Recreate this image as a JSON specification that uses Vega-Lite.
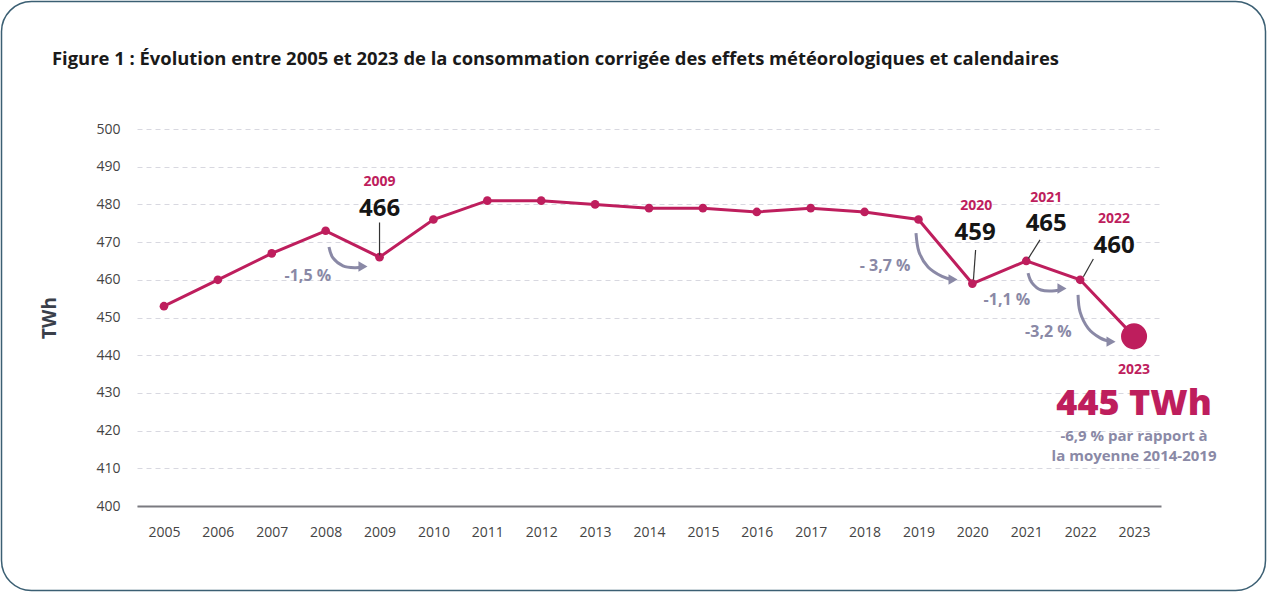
{
  "$schema": "https://vega.github.io/schema/vega-lite/v6.json",
  "width": 1024,
  "height": 377,
  "autosize": {"type": "none"},
  "padding": {"left": 137, "top": 129, "right": 106, "bottom": 86},
  "background": "white",
  "config": {
    "view": {"stroke": null},
    "font": "Open Sans",
    "axis": {"labelFont": "Open Sans", "titleFont": "Open Sans"}
  },
  "title": {
    "text": "Figure 1 : Évolution entre 2005 et 2023 de la consommation corrigée des effets météorologiques et calendaires",
    "anchor": "start",
    "frame": "group",
    "dx": -85,
    "offset": -77,
    "baseline": "middle",
    "fontSize": 18.4,
    "fontWeight": "bold",
    "font": "Open Sans",
    "color": "#1a1a1a"
  },
  "datasets": {
    "series": [
      {"year": 2005, "twh": 453}, {"year": 2006, "twh": 460}, {"year": 2007, "twh": 467},
      {"year": 2008, "twh": 473}, {"year": 2009, "twh": 466}, {"year": 2010, "twh": 476},
      {"year": 2011, "twh": 481}, {"year": 2012, "twh": 481}, {"year": 2013, "twh": 480},
      {"year": 2014, "twh": 479}, {"year": 2015, "twh": 479}, {"year": 2016, "twh": 478},
      {"year": 2017, "twh": 479}, {"year": 2018, "twh": 478}, {"year": 2019, "twh": 476},
      {"year": 2020, "twh": 459}, {"year": 2021, "twh": 465}, {"year": 2022, "twh": 460},
      {"year": 2023, "twh": 445}
    ],
    "labels": [
      {"x": 2009.0, "y": 485.9, "t": "2009", "k": "yr"},
      {"x": 2009.0, "y": 478.8, "t": "466", "k": "val"},
      {"x": 2020.07, "y": 479.6, "t": "2020", "k": "yr"},
      {"x": 2020.05, "y": 472.3, "t": "459", "k": "val"},
      {"x": 2021.37, "y": 481.6, "t": "2021", "k": "yr"},
      {"x": 2021.37, "y": 474.7, "t": "465", "k": "val"},
      {"x": 2022.63, "y": 476.0, "t": "2022", "k": "yr"},
      {"x": 2022.63, "y": 469.0, "t": "460", "k": "val"},
      {"x": 2007.67, "y": 461.0, "t": "-1,5 %", "k": "pct"},
      {"x": 2018.38, "y": 463.7, "t": "- 3,7 %", "k": "pct"},
      {"x": 2020.64, "y": 454.6, "t": "-1,1 %", "k": "pct"},
      {"x": 2021.41, "y": 446.2, "t": "-3,2 %", "k": "pct"},
      {"x": 2023.0, "y": 436.0, "t": "2023", "k": "yr"},
      {"x": 2023.0, "y": 424.1, "t": "445 TWh", "k": "big"},
      {"x": 2023.0, "y": 420.5, "t": "-6,9 % par rapport à\nla moyenne 2014-2019", "k": "note"}
    ],
    "leaders": [
      {"x": 2009.0, "y": 475.2, "x2": 2009.0, "y2": 466.5},
      {"x": 2020.06, "y": 467.9, "x2": 2020.02, "y2": 460.0},
      {"x": 2021.255, "y": 470.6, "x2": 2021.04, "y2": 465.7},
      {"x": 2022.245, "y": 465.5, "x2": 2022.06, "y2": 460.8}
    ],
    "arrows": [
      {"a": 1, "o": 1, "x": 2008.062, "y": 468.7},
      {"a": 1, "o": 2, "x": 2008.136, "y": 465.8},
      {"a": 1, "o": 3, "x": 2008.322, "y": 463.7},
      {"a": 1, "o": 4, "x": 2008.544, "y": 463.2},
      {"a": 1, "o": 5, "x": 2008.693, "y": 463.5},
      {"a": 2, "o": 1, "x": 2018.954, "y": 472.4},
      {"a": 2, "o": 2, "x": 2019.010, "y": 467.4},
      {"a": 2, "o": 3, "x": 2019.177, "y": 463.4},
      {"a": 2, "o": 4, "x": 2019.437, "y": 460.9},
      {"a": 2, "o": 5, "x": 2019.641, "y": 460.1},
      {"a": 3, "o": 1, "x": 2021.033, "y": 461.8},
      {"a": 3, "o": 2, "x": 2021.107, "y": 459.2},
      {"a": 3, "o": 3, "x": 2021.274, "y": 457.3},
      {"a": 3, "o": 4, "x": 2021.534, "y": 457.1},
      {"a": 3, "o": 5, "x": 2021.663, "y": 457.7},
      {"a": 4, "o": 1, "x": 2021.961, "y": 456.0},
      {"a": 4, "o": 2, "x": 2021.998, "y": 451.5},
      {"a": 4, "o": 3, "x": 2022.146, "y": 447.2},
      {"a": 4, "o": 4, "x": 2022.369, "y": 444.6},
      {"a": 4, "o": 5, "x": 2022.573, "y": 443.6}
    ]
  },
  "layer": [
    {
      "data": {"name": "series"},
      "mark": {"type": "line", "color": "#be1e5d", "strokeWidth": 3},
      "encoding": {
        "x": {
          "field": "year", "type": "quantitative",
          "scale": {"domain": [2004.5, 2023.5], "nice": false, "zero": false},
          "axis": {
            "values": [2005, 2006, 2007, 2008, 2009, 2010, 2011, 2012, 2013, 2014, 2015, 2016, 2017, 2018, 2019, 2020, 2021, 2022, 2023],
            "tickCount": 40,
            "format": "d", "title": null, "grid": false, "ticks": false,
            "domainColor": "#7a7a80", "domainWidth": 2, "labelOverlap": false,
            "labelFontSize": 14, "labelColor": "#444", "labelPadding": 19
          }
        },
        "y": {
          "field": "twh", "type": "quantitative",
          "scale": {"domain": [400, 500], "nice": false, "zero": false},
          "axis": {
            "values": [400, 410, 420, 430, 440, 450, 460, 470, 480, 490, 500],
            "tickCount": 20,
            "title": "TWh", "titleFontSize": 19, "titleFontWeight": "bold", "titleColor": "#3a3f4a", "titlePadding": 36,
            "domain": false, "ticks": false, "labelOverlap": false,
            "gridColor": "#d8d8e0", "gridDash": [5, 4], "gridWidth": 1,
            "labelFontSize": 14, "labelColor": "#444", "labelPadding": 17
          }
        }
      }
    },
    {
      "data": {"name": "series"},
      "transform": [{"filter": "datum.year < 2023"}],
      "mark": {"type": "point", "filled": true, "opacity": 1, "color": "#be1e5d", "size": 75},
      "encoding": {
        "x": {"field": "year", "type": "quantitative"},
        "y": {"field": "twh", "type": "quantitative"}
      }
    },
    {
      "data": {"name": "series"},
      "transform": [{"filter": "datum.year == 2023"}],
      "mark": {"type": "point", "filled": true, "opacity": 1, "color": "#be1e5d", "size": 680},
      "encoding": {
        "x": {"field": "year", "type": "quantitative"},
        "y": {"field": "twh", "type": "quantitative"}
      }
    },
    {
      "data": {"name": "leaders"},
      "mark": {"type": "rule", "color": "#333", "strokeWidth": 1.2},
      "encoding": {
        "x": {"field": "x", "type": "quantitative"},
        "y": {"field": "y", "type": "quantitative"},
        "x2": {"field": "x2"},
        "y2": {"field": "y2"}
      }
    },
    {
      "data": {"name": "arrows"},
      "mark": {"type": "line", "color": "#8a89a6", "strokeWidth": 3, "interpolate": "cardinal"},
      "encoding": {
        "x": {"field": "x", "type": "quantitative"},
        "y": {"field": "y", "type": "quantitative"},
        "detail": {"field": "a"},
        "order": {"field": "o"}
      }
    },
    {
      "data": {"name": "arrows"},
      "transform": [{"filter": "datum.o == 5"}],
      "mark": {"type": "point", "shape": "triangle-right", "filled": true, "opacity": 1, "color": "#8a89a6", "size": 110},
      "encoding": {
        "x": {"field": "x", "type": "quantitative"},
        "y": {"field": "y", "type": "quantitative"}
      }
    },
    {
      "data": {"name": "labels"},
      "transform": [{"filter": "datum.k == 'yr'"}],
      "mark": {"type": "text", "font": "Open Sans", "fontWeight": "bold", "fontSize": 14, "color": "#be1e5d", "baseline": "middle", "align": "center"},
      "encoding": {
        "x": {"field": "x", "type": "quantitative"},
        "y": {"field": "y", "type": "quantitative"},
        "text": {"field": "t"}
      }
    },
    {
      "data": {"name": "labels"},
      "transform": [{"filter": "datum.k == 'val'"}],
      "mark": {"type": "text", "font": "Open Sans", "fontWeight": "bold", "fontSize": 24, "color": "#151515", "baseline": "middle", "align": "center"},
      "encoding": {
        "x": {"field": "x", "type": "quantitative"},
        "y": {"field": "y", "type": "quantitative"},
        "text": {"field": "t"}
      }
    },
    {
      "data": {"name": "labels"},
      "transform": [{"filter": "datum.k == 'pct'"}],
      "mark": {"type": "text", "font": "Open Sans", "fontWeight": "bold", "fontSize": 16, "color": "#8a89a6", "baseline": "middle", "align": "center"},
      "encoding": {
        "x": {"field": "x", "type": "quantitative"},
        "y": {"field": "y", "type": "quantitative"},
        "text": {"field": "t"}
      }
    },
    {
      "data": {"name": "labels"},
      "transform": [{"filter": "datum.k == 'big'"}],
      "mark": {"type": "text", "font": "Open Sans", "fontWeight": "800", "fontSize": 36, "color": "#be1e5d", "baseline": "alphabetic", "align": "center"},
      "encoding": {
        "x": {"field": "x", "type": "quantitative"},
        "y": {"field": "y", "type": "quantitative"},
        "text": {"field": "t"}
      }
    },
    {
      "data": {"name": "labels"},
      "transform": [{"filter": "datum.k == 'note'"}],
      "mark": {"type": "text", "font": "Open Sans", "fontWeight": "bold", "fontSize": 15, "lineHeight": 20.5, "lineBreak": "\n", "color": "#8a89a6", "baseline": "top", "align": "center"},
      "encoding": {
        "x": {"field": "x", "type": "quantitative"},
        "y": {"field": "y", "type": "quantitative"},
        "text": {"field": "t"}
      }
    },
    {
      "data": {"values": [{}]},
      "mark": {"type": "rect", "fill": null, "stroke": "#3b5f73", "strokeWidth": 1.5, "cornerRadius": 30, "clip": false},
      "encoding": {
        "x": {"datum": 2001.986, "type": "quantitative"},
        "x2": {"datum": 2025.439},
        "y": {"datum": 533.8, "type": "quantitative"},
        "y2": {"datum": 377.6}
      }
    }
  ]
}
